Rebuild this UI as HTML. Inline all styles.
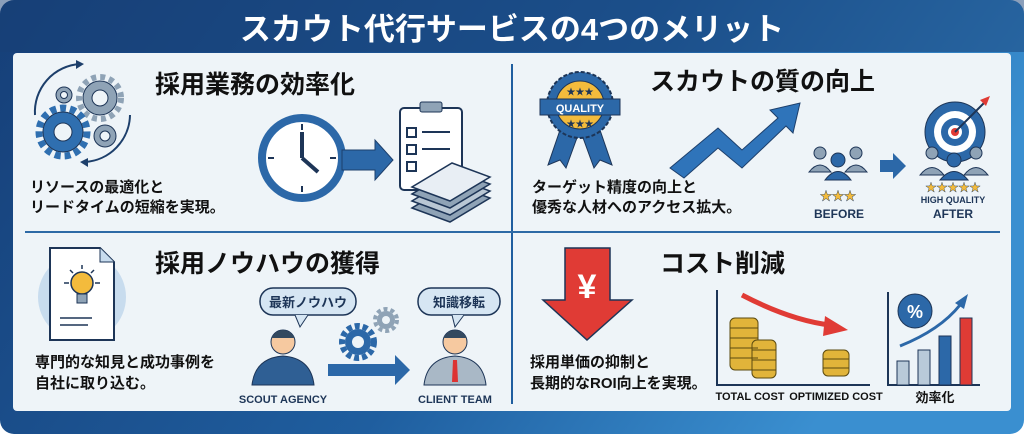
<!DOCTYPE html>
<html><head><meta charset="utf-8"><style>
html,body{margin:0;padding:0;width:1024px;height:434px;overflow:hidden;background:#fff}
svg{display:block}
text{font-family:"Liberation Sans","Noto Sans CJK JP",sans-serif;font-weight:bold}
</style></head><body>
<svg width="1024" height="434" viewBox="0 0 1024 434" xmlns="http://www.w3.org/2000/svg">
<defs>
<linearGradient id="bg" x1="0" y1="0" x2="1" y2="0.3">
<stop offset="0" stop-color="#163f78"/><stop offset="0.6" stop-color="#1f5e9f"/><stop offset="1" stop-color="#3a8fd0"/>
</linearGradient>
</defs>
<rect x="0" y="0" width="1024" height="434" rx="14" fill="url(#bg)"/>
<rect x="0" y="0" width="1024" height="52" fill="#173f76" opacity="0.5"/>
<text x="512" y="40" font-size="31" fill="#fff" text-anchor="middle">スカウト代行サービスの4つのメリット</text>
<rect x="13" y="53" width="998" height="358" rx="4" fill="#eef4f8"/>
<line x1="512" y1="64" x2="512" y2="404" stroke="#1f5e9f" stroke-width="2"/>
<line x1="25" y1="232" x2="1000" y2="232" stroke="#2d6aa6" stroke-width="2"/>

<!-- Q1 -->
<text x="155" y="93" font-size="25" fill="#111">採用業務の効率化</text>
<path d="M35 115 A48 48 0 0 1 80 64" fill="none" stroke="#1d3f6b" stroke-width="2"/>
<path d="M76 60 L84 64 L76 69 Z" fill="#1d3f6b"/>
<path d="M130 115 A48 48 0 0 1 85 162" fill="none" stroke="#1d3f6b" stroke-width="2"/>
<path d="M88 158 L80 162 L88 167 Z" fill="#1d3f6b"/>
<g stroke="#1d3557" stroke-width="1">
<circle cx="100" cy="98" r="21" fill="none" stroke="#8fa3b6" stroke-width="6" stroke-dasharray="5 4"/>
<circle cx="100" cy="98" r="17" fill="#8fa3b6"/><circle cx="100" cy="98" r="8" fill="#eef4f8"/>
<circle cx="63" cy="132" r="24" fill="none" stroke="#2f6fb0" stroke-width="7" stroke-dasharray="6 4"/>
<circle cx="63" cy="132" r="20" fill="#2f6fb0"/><circle cx="63" cy="132" r="9" fill="#eef4f8"/>
<circle cx="105" cy="136" r="11" fill="#8fa3b6"/><circle cx="105" cy="136" r="5" fill="#eef4f8"/>
<circle cx="64" cy="95" r="8" fill="#8fa3b6"/><circle cx="64" cy="95" r="3.5" fill="#eef4f8"/>
</g>
<text x="30" y="192" font-size="15" fill="#111">リソースの最適化と</text>
<text x="30" y="212" font-size="15" fill="#111">リードタイムの短縮を実現。</text>
<circle cx="302" cy="158" r="40" fill="#fff" stroke="#2c68a8" stroke-width="8"/>
<line x1="302" y1="158" x2="302" y2="132" stroke="#1d3557" stroke-width="4"/>
<line x1="302" y1="158" x2="318" y2="172" stroke="#1d3557" stroke-width="4"/>
<g stroke="#1d3557" stroke-width="2"><line x1="302" y1="124" x2="302" y2="130"/><line x1="302" y1="186" x2="302" y2="192"/><line x1="268" y1="158" x2="274" y2="158"/><line x1="330" y1="158" x2="336" y2="158"/></g>
<path d="M342 150 L375 150 L375 140 L393 160 L375 180 L375 170 L342 170 Z" fill="#2c68a8" stroke="#1d3f6b"/>
<rect x="400" y="108" width="62" height="82" rx="4" fill="#fff" stroke="#1d3557" stroke-width="2"/>
<rect x="420" y="102" width="22" height="10" rx="2" fill="#8fa3b6" stroke="#1d3557"/>
<g stroke="#1d3557" stroke-width="2"><rect x="407" y="128" width="9" height="9" fill="#fff"/><rect x="407" y="145" width="9" height="9" fill="#fff"/><rect x="407" y="162" width="9" height="9" fill="#fff"/><line x1="422" y1="132" x2="450" y2="132"/><line x1="422" y1="149" x2="450" y2="149"/></g>
<g fill="#e8eef4" stroke="#1d3557" stroke-width="1.5">
<path d="M412 208 L450 222 L490 198 L452 184 Z" fill="#8fa3b6"/>
<path d="M412 201 L450 215 L490 191 L452 177 Z" fill="#b9c7d4"/>
<path d="M412 194 L450 208 L490 184 L452 170 Z" fill="#8fa3b6"/>
<path d="M412 187 L450 201 L490 177 L452 163 Z"/>
</g>

<!-- Q2 -->
<text x="650" y="90" font-size="25" fill="#111">スカウトの質の向上</text>
<path d="M560 130 L548 165 L560 160 L566 168 L578 135 Z" fill="#2c68a8" stroke="#1d3557"/>
<path d="M600 130 L612 165 L600 160 L594 168 L582 135 Z" fill="#2c68a8" stroke="#1d3557"/>
<circle cx="580" cy="105" r="33" fill="#2c68a8" stroke="#1d3557" stroke-width="2" stroke-dasharray="4 2"/>
<circle cx="580" cy="105" r="24" fill="#f3bb3c" stroke="#1d3557"/>
<rect x="540" y="99" width="80" height="16" fill="#2c68a8" stroke="#1d3557"/>
<text x="580" y="112" font-size="11" fill="#fff" text-anchor="middle">QUALITY</text>
<text x="580" y="95" font-size="9" fill="#1d3557" text-anchor="middle">★★★</text>
<text x="580" y="127" font-size="9" fill="#1d3557" text-anchor="middle">★★★</text>
<path d="M670 168 L718 128 L742 150 L778 118 L770 110 L800 103 L793 133 L786 126 L742 168 L718 148 L684 178 Z" fill="#2f74ba" stroke="#1d3f6b"/>
<text x="532" y="192" font-size="15" fill="#111">ターゲット精度の向上と</text>
<text x="532" y="212" font-size="15" fill="#111">優秀な人材へのアクセス拡大。</text>
<g fill="#8fa3b6" stroke="#1d3557"><circle cx="820" cy="153" r="6"/><circle cx="856" cy="153" r="6"/><path d="M809 172 Q820 158 831 172 Z"/><path d="M845 172 Q856 158 867 172 Z"/></g>
<g fill="#2c68a8" stroke="#1d3557"><circle cx="838" cy="160" r="7"/><path d="M825 180 Q838 163 851 180 Z"/></g>
<text x="838" y="200" font-size="12" fill="#f3bb3c" stroke="#1d3557" stroke-width="0.4" text-anchor="middle">★★★</text>
<text x="839" y="218" font-size="12" fill="#1d3557" text-anchor="middle">BEFORE</text>
<path d="M880 160 L893 160 L893 153 L906 166 L893 179 L893 172 L880 172 Z" fill="#2c68a8"/>
<circle cx="955" cy="132" r="30" fill="#2c68a8" stroke="#1d3557"/>
<circle cx="955" cy="132" r="21" fill="#fff"/>
<circle cx="955" cy="132" r="14" fill="#2c68a8"/>
<circle cx="955" cy="132" r="7" fill="#fff"/>
<circle cx="955" cy="132" r="4" fill="#e03b35"/>
<line x1="955" y1="132" x2="985" y2="102" stroke="#1d3557" stroke-width="2"/>
<path d="M980 100 L990 96 L986 106 Z" fill="#e03b35"/>
<g fill="#8fa3b6" stroke="#1d3557"><circle cx="932" cy="153" r="6"/><circle cx="976" cy="153" r="6"/><path d="M920 175 Q932 160 944 175 Z"/><path d="M964 175 Q976 160 988 175 Z"/></g>
<g fill="#2c68a8" stroke="#1d3557"><circle cx="954" cy="160" r="7"/><path d="M940 180 Q954 163 968 180 Z"/></g>
<text x="953" y="191" font-size="11" fill="#f3bb3c" stroke="#1d3557" stroke-width="0.4" text-anchor="middle">★★★★★</text>
<text x="953" y="203" font-size="9" fill="#1d3557" text-anchor="middle">HIGH QUALITY</text>
<text x="953" y="218" font-size="12" fill="#1d3557" text-anchor="middle">AFTER</text>

<!-- Q3 -->
<text x="155" y="272" font-size="25" fill="#111">採用ノウハウの獲得</text>
<circle cx="82" cy="297" r="44" fill="#c8dcee"/>
<path d="M50 248 L100 248 L114 262 L114 340 L50 340 Z" fill="#fff" stroke="#1d3557" stroke-width="2"/>
<path d="M100 248 L100 262 L114 262" fill="#c8dcee" stroke="#1d3557"/>
<circle cx="82" cy="283" r="11" fill="#f3bb3c" stroke="#1d3557" stroke-width="1.5"/>
<rect x="77" y="294" width="10" height="9" fill="#8fa3b6" stroke="#1d3557"/>
<g stroke="#1d3557" stroke-width="1.5"><line x1="64" y1="283" x2="69" y2="283"/><line x1="95" y1="283" x2="100" y2="283"/><line x1="82" y1="265" x2="82" y2="269"/><line x1="70" y1="270" x2="73" y2="273"/><line x1="94" y1="270" x2="91" y2="273"/><line x1="60" y1="318" x2="92" y2="318"/><line x1="60" y1="325" x2="88" y2="325"/></g>
<text x="35" y="367" font-size="15" fill="#111">専門的な知見と成功事例を</text>
<text x="35" y="388" font-size="15" fill="#111">自社に取り込む。</text>
<rect x="260" y="288" width="96" height="27" rx="13" fill="#d6e6f3" stroke="#1d3557" stroke-width="1.5"/>
<path d="M295 315 L300 327 L308 315" fill="#d6e6f3" stroke="#1d3557"/>
<text x="308" y="307" font-size="13" fill="#1d3557" text-anchor="middle">最新ノウハウ</text>
<rect x="418" y="288" width="82" height="27" rx="13" fill="#d6e6f3" stroke="#1d3557" stroke-width="1.5"/>
<path d="M452 315 L455 327 L464 315" fill="#d6e6f3" stroke="#1d3557"/>
<text x="459" y="307" font-size="13" fill="#1d3557" text-anchor="middle">知識移転</text>
<circle cx="283" cy="342" r="12" fill="#f6c9a0" stroke="#1d3557"/>
<path d="M271 338 Q283 322 295 338 Z" fill="#33495f"/>
<path d="M252 385 Q255 358 283 356 Q311 358 314 385 Z" fill="#2f5f94" stroke="#1d3557"/>
<circle cx="455" cy="342" r="12" fill="#f6c9a0" stroke="#1d3557"/>
<path d="M443 338 Q455 322 467 338 Z" fill="#33495f"/>
<path d="M424 385 Q427 358 455 356 Q483 358 486 385 Z" fill="#a9b8c6" stroke="#1d3557"/>
<path d="M453 360 L457 360 L458 382 L452 382 Z" fill="#d33"/>
<circle cx="358" cy="342" r="16" fill="none" stroke="#2c68a8" stroke-width="6" stroke-dasharray="5 3"/>
<circle cx="358" cy="342" r="13" fill="#2c68a8"/><circle cx="358" cy="342" r="6" fill="#eef4f8"/>
<circle cx="386" cy="320" r="11" fill="none" stroke="#8fa3b6" stroke-width="4" stroke-dasharray="4 3"/>
<circle cx="386" cy="320" r="9" fill="#8fa3b6"/><circle cx="386" cy="320" r="4" fill="#eef4f8"/>
<path d="M328 364 L395 364 L395 355 L410 370 L395 385 L395 376 L328 376 Z" fill="#2c68a8"/>
<text x="283" y="403" font-size="11" fill="#1d3557" text-anchor="middle">SCOUT AGENCY</text>
<text x="455" y="403" font-size="11" fill="#1d3557" text-anchor="middle">CLIENT TEAM</text>

<!-- Q4 -->
<text x="660" y="272" font-size="25" fill="#111">コスト削減</text>
<path d="M565 248 L610 248 L610 300 L632 300 L587 340 L543 300 L565 300 Z" fill="#e03b35" stroke="#1d3557" stroke-width="1.5"/>
<text x="587" y="298" font-size="34" fill="#fff" text-anchor="middle">¥</text>
<text x="530" y="367" font-size="15" fill="#111">採用単価の抑制と</text>
<text x="530" y="388" font-size="15" fill="#111">長期的なROI向上を実現。</text>
<path d="M717 290 L717 385 L870 385" fill="none" stroke="#1d3557" stroke-width="2"/>
<path d="M742 295 Q790 320 830 325" fill="none" stroke="#e03b35" stroke-width="5"/>
<path d="M825 316 L848 330 L823 336 Z" fill="#e03b35"/>
<g fill="#e1b43a" stroke="#5a4a10">
<rect x="730" y="318" width="28" height="52" rx="5"/>
<rect x="752" y="340" width="24" height="38" rx="5"/>
<rect x="823" y="350" width="26" height="26" rx="5"/>
</g>
<g stroke="#5a4a10" stroke-width="1"><line x1="730" y1="328" x2="758" y2="328"/><line x1="730" y1="338" x2="758" y2="338"/><line x1="730" y1="348" x2="758" y2="348"/><line x1="730" y1="358" x2="758" y2="358"/><line x1="752" y1="350" x2="776" y2="350"/><line x1="752" y1="360" x2="776" y2="360"/><line x1="752" y1="370" x2="776" y2="370"/><line x1="823" y1="359" x2="849" y2="359"/><line x1="823" y1="368" x2="849" y2="368"/></g>
<text x="750" y="400" font-size="11" fill="#111" text-anchor="middle">TOTAL COST</text>
<text x="836" y="400" font-size="11" fill="#111" text-anchor="middle">OPTIMIZED COST</text>
<path d="M888 292 L888 385 L980 385" fill="none" stroke="#1d3557" stroke-width="2"/>
<rect x="897" y="361" width="12" height="24" fill="#b9cad9" stroke="#1d3557"/>
<rect x="918" y="350" width="12" height="35" fill="#b9cad9" stroke="#1d3557"/>
<rect x="939" y="336" width="12" height="49" fill="#2c68a8" stroke="#1d3557"/>
<rect x="960" y="318" width="12" height="67" fill="#e03b35" stroke="#1d3557"/>
<path d="M900 346 Q940 330 960 305" fill="none" stroke="#2c68a8" stroke-width="3"/>
<path d="M955 303 L968 294 L964 309 Z" fill="#2c68a8"/>
<circle cx="915" cy="311" r="17" fill="#2c68a8" stroke="#1d3557"/>
<text x="915" y="318" font-size="18" fill="#fff" text-anchor="middle">%</text>
<text x="935" y="402" font-size="13" fill="#111" text-anchor="middle">効率化</text>
</svg>
</body></html>
